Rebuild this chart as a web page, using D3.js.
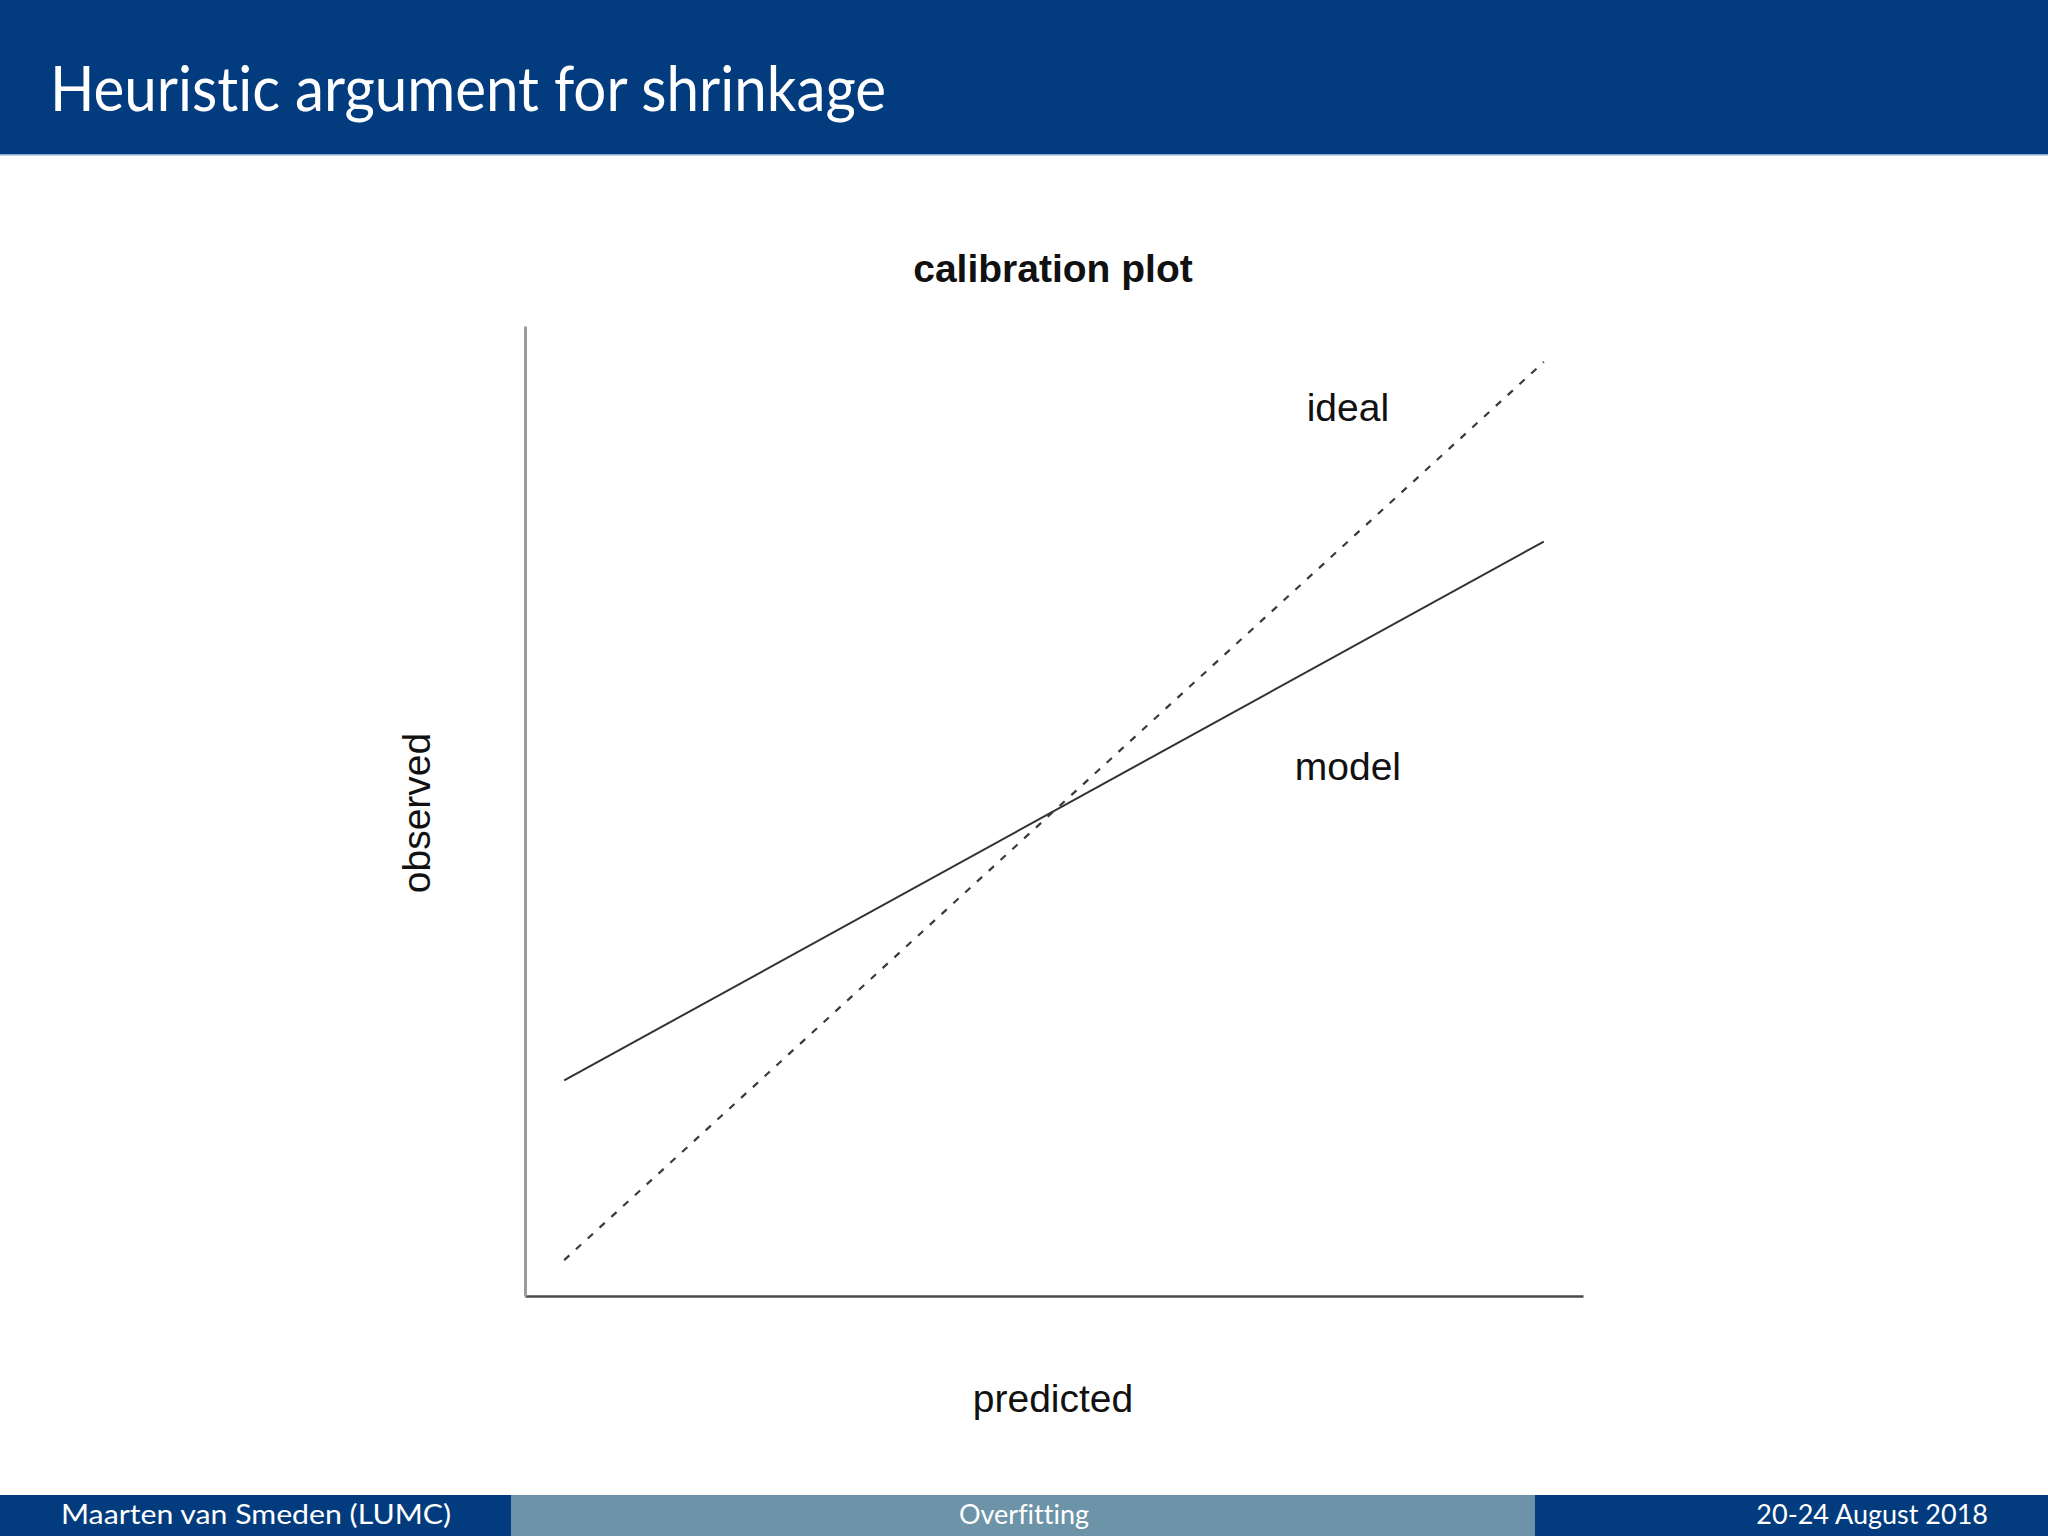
<!doctype html>
<html>
<head>
<meta charset="utf-8">
<script src="https://d3js.org/d3.v7.min.js"></script>
<style>
  body { margin: 0; background: #fff; }
  text.chart { font-family: "Liberation Sans", Arial, sans-serif; fill: #111; }
  text.slide { font-family: Lato, "Open Sans", sans-serif; fill: #fff; font-variant-ligatures: none; }
</style>
</head>
<body>
<svg id="slide" width="2048" height="1536"></svg>
<script>
    // data (unit calibration scale)
    var idealX = [0, 1],
        idealY = [0, 1];
    var modelX = [0, 1],
        modelY = [0.2, 0.8];
    var labelNames = ["ideal", "model"],
        labelX = [0.8, 0.8],
        labelY = [0.95, 0.55];

    var slideTitle = "Heuristic argument for shrinkage",
        footerTexts = ["Maarten van Smeden  (LUMC)", "Overfitting", "20-24 August 2018"];

    var svg = d3.select("#slide");
    var darkBlue = "#033c7e";

    // header bar
    svg.append("rect").attr("x", 0).attr("y", 0).attr("width", 2048).attr("height", 154).attr("fill", darkBlue);
    svg.append("rect").attr("x", 0).attr("y", 154).attr("width", 2048).attr("height", 1.5).attr("fill", "#8fa9cc");
    svg.append("text")
       .attr("class", "slide")
       .attr("x", 50)
       .attr("y", 111)
       .attr("font-size", "62px")
       .attr("textLength", 836)
       .attr("lengthAdjust", "spacingAndGlyphs")
       .text(slideTitle);

    // footer
    svg.append("rect").attr("x", 0).attr("y", 1495).attr("width", 511).attr("height", 41).attr("fill", darkBlue);
    svg.append("rect").attr("x", 511).attr("y", 1495).attr("width", 1024).attr("height", 41).attr("fill", "#6c93a8");
    svg.append("rect").attr("x", 1535).attr("y", 1495).attr("width", 513).attr("height", 41).attr("fill", darkBlue);

    var footer = svg.append("g").attr("class", "footer");
    footer.append("text").attr("class", "slide").attr("x", 61).attr("y", 1524)
          .attr("font-size", "27px").attr("textLength", 390).attr("lengthAdjust", "spacingAndGlyphs")
          .text(footerTexts[0]);
    footer.append("text").attr("class", "slide").attr("x", 1024).attr("y", 1524)
          .attr("font-size", "27px").attr("text-anchor", "middle")
          .text(footerTexts[1]);
    footer.append("text").attr("class", "slide").attr("x", 1988).attr("y", 1524)
          .attr("font-size", "27px").attr("text-anchor", "end")
          .text(footerTexts[2]);

    // plot region
    var xScale = d3.scaleLinear().domain([-0.04, 1.04]).range([525, 1583]),
        yScale = d3.scaleLinear().domain([-0.04, 1.04]).range([1296, 326]);

    svg.append("text")
       .attr("class", "chart")
       .attr("x", 1053)
       .attr("y", 282)
       .attr("text-anchor", "middle")
       .attr("font-weight", "bold")
       .attr("font-size", "39px")
       .text("calibration plot");

    svg.append("g")
       .attr("transform", "translate(0," + yScale.range()[0] + ")")
       .call(d3.axisBottom(xScale).ticks(0).tickSizeOuter(0))
       .select(".domain")
       .attr("stroke", "#4a4a4a")
       .attr("stroke-width", 2.5);

    svg.append("g")
       .attr("transform", "translate(" + xScale.range()[0] + ",0)")
       .call(d3.axisLeft(yScale).ticks(0).tickSizeOuter(0))
       .select(".domain")
       .attr("stroke", "#9c9c9c")
       .attr("stroke-width", 3);

    svg.append("text")
       .attr("class", "chart")
       .attr("x", 1053)
       .attr("y", 1412)
       .attr("text-anchor", "middle")
       .attr("font-size", "39px")
       .text("predicted");

    svg.append("text")
       .attr("class", "chart")
       .attr("transform", "translate(430,813) rotate(-90)")
       .attr("text-anchor", "middle")
       .attr("font-size", "39px")
       .text("observed");

    var line = d3.line()
        .x(function(d) { return xScale(d[0]); })
        .y(function(d) { return yScale(d[1]); });

    svg.append("path")
       .datum(d3.zip(idealX, idealY))
       .attr("d", line)
       .attr("fill", "none")
       .attr("stroke", "#3a3a3a")
       .attr("stroke-width", 2.2)
       .attr("stroke-dasharray", "7,9");

    svg.append("path")
       .datum(d3.zip(modelX, modelY))
       .attr("d", line)
       .attr("fill", "none")
       .attr("stroke", "#333")
       .attr("stroke-width", 2);

    svg.selectAll(".lbl")
       .data(labelNames)
       .enter().append("text")
       .attr("class", "chart lbl")
       .attr("x", function(d, i) { return xScale(labelX[i]); })
       .attr("y", function(d, i) { return yScale(labelY[i]); })
       .attr("dy", "0.36em")
       .attr("text-anchor", "middle")
       .attr("font-size", "39px")
       .text(function(d) { return d; });
</script>
</body>
</html>
